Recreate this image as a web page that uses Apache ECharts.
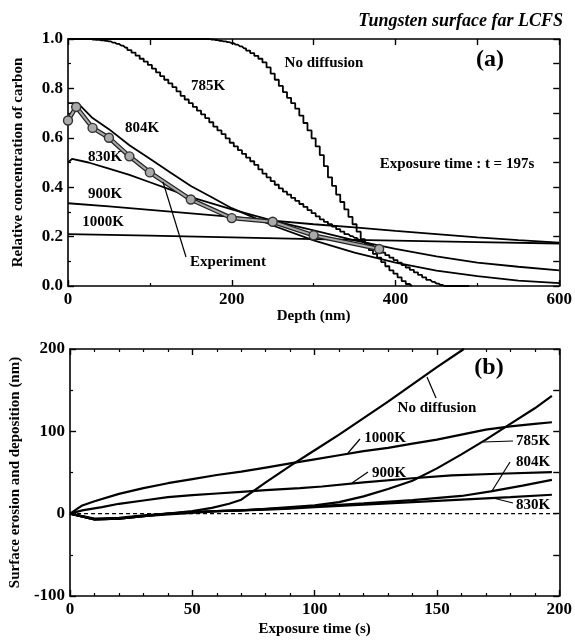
<!DOCTYPE html>
<html>
<head>
<meta charset="utf-8">
<script src="https://cdn.jsdelivr.net/npm/echarts@6/dist/echarts.min.js"></script>
<style>
html, body { margin: 0; padding: 0; background: #fff; }
#chart { width: 575px; height: 640px; }
</style>
</head>
<body>
<div id="chart"></div>
<script>
// (a) carbon depth profiles at t = 197 s : [depth (nm), relative concentration]
var noDiffA = [[0,1],[165,1],[170,1],[175,0.998],[180,0.996],[185,0.993],[190,0.99],[195,0.987],[200,0.983],
    [205,0.977],[210,0.97],[215,0.962],[220,0.953],[225,0.943],[230,0.932],[235,0.92],[240,0.905],[245,0.885],
    [250,0.86],[255,0.835],[260,0.81],[265,0.785],[270,0.762],[275,0.74],[280,0.718],[285,0.69],[290,0.66],
    [295,0.63],[300,0.598],[305,0.565],[310,0.53],[315,0.485],[320,0.44],[325,0.405],[330,0.37],[335,0.34],
    [340,0.31],[345,0.28],[350,0.25],[355,0.22],[360,0.19],[365,0.165],[370,0.145],[375,0.13],[380,0.115],
    [385,0.097],[390,0.08],[395,0.063],[400,0.05],[405,0.035],[410,0.02],[415,0.008],[420,0]];
var k785A = [[0,1],[25,1],[30,0.998],[35,0.997],[40,0.995],[45,0.993],[50,0.99],[55,0.985],[60,0.98],
    [65,0.973],[70,0.965],[75,0.955],[80,0.945],[85,0.933],[90,0.92],[95,0.908],[100,0.895],[105,0.88],
    [110,0.865],[115,0.85],[120,0.835],[125,0.82],[130,0.805],[135,0.788],[140,0.77],[145,0.755],[150,0.74],
    [155,0.725],[160,0.71],[165,0.695],[170,0.68],[175,0.663],[180,0.645],[185,0.63],[190,0.615],[195,0.598],
    [200,0.58],[205,0.565],[210,0.55],[215,0.535],[220,0.52],[225,0.505],[230,0.49],[235,0.472],[240,0.455],
    [245,0.44],[250,0.425],[255,0.41],[260,0.395],[265,0.382],[270,0.37],[275,0.357],[280,0.345],[285,0.332],
    [290,0.32],[295,0.307],[300,0.295],[305,0.282],[310,0.27],[315,0.26],[320,0.25],[325,0.24],[330,0.23],
    [335,0.22],[340,0.21],[345,0.202],[350,0.195],[355,0.187],[360,0.18],[365,0.172],[370,0.165],[375,0.155],
    [380,0.145],[385,0.135],[390,0.125],[395,0.115],[400,0.105],[405,0.095],[410,0.085],[415,0.075],[420,0.065],
    [425,0.055],[430,0.045],[435,0.035],[440,0.025],[445,0.017],[450,0.01],[455,0.004],[460,0],[490,0]];
var k804A = [[0,0.74],[12,0.74],[30,0.68],[50,0.635],[75,0.57],[100,0.515],[125,0.46],[150,0.405],[175,0.36],
    [200,0.315],[225,0.28],[250,0.245],[300,0.185],[350,0.135],[400,0.095],[450,0.062],[500,0.04],[550,0.022],[600,0.012]];
var k830A = [[0,0.5],[5,0.515],[25,0.5],[50,0.475],[75,0.45],[100,0.42],[125,0.39],[150,0.36],[200,0.31],
    [250,0.265],[300,0.225],[350,0.185],[400,0.15],[450,0.12],[500,0.095],[550,0.078],[600,0.063]];
var k900A = [[0,0.335],[50,0.322],[100,0.308],[150,0.294],[200,0.28],[250,0.265],[300,0.25],[350,0.237],
    [400,0.223],[450,0.21],[500,0.197],[550,0.186],[600,0.176]];
var k1000A = [[0,0.21],[100,0.204],[200,0.197],[300,0.19],[400,0.184],[500,0.178],[600,0.172]];
var experimentA = [[0,0.67],[10,0.725],[30,0.64],[50,0.6],[75,0.525],[100,0.46],[150,0.35],[200,0.275],
    [250,0.26],[300,0.205],[380,0.15]];

// (b) surface erosion / deposition : [exposure time (s), nm]
var noDiffB = [[0,0],[10,-7],[20,-6],[30,-3],[40,0],[50,3],[58,7],[65,12],[70,17],[80,38],[90,58],[100,77],
    [110,96],[120,116],[130,136],[140,157],[150,178],[161,200]];
var k785B = [[0,0],[10,-7],[20,-6],[30,-3],[40,-1],[50,1],[60,3],[70,4],[80,6],[90,8],[100,10],[110,14],
    [120,21],[130,30],[140,40],[150,55],[160,72],[170,90],[180,109],[190,128],[197,143]];
var k804B = [[0,0],[10,-7],[20,-6],[30,-3],[40,0],[50,2],[60,3],[70,4],[80,5.5],[90,7],[100,9],[120,12.5],
    [140,16.5],[160,21.5],[172,27],[185,34],[197,41]];
var k830B = [[0,0],[10,-6],[20,-5],[30,-2],[40,0],[50,2],[60,3],[70,4],[80,5],[90,6],[100,8],[120,11],
    [140,14],[160,17],[180,20],[197,23]];
var k900B = [[0,0],[5,4],[13,8],[20,12],[30,16],[40,20],[50,22.5],[60,24.5],[70,26.5],[80,28.5],[94,31],
    [103,33],[120,38],[140,43],[156,46.5],[175,48.5],[197,50.5]];
var k1000B = [[0,0],[5,10],[10,15],[20,24],[30,31],[40,37],[50,42],[60,47],[70,51],[80,56],[90,61],[100,66],
    [110,71],[120,76],[130,80],[140,85],[150,90],[160,96],[170,102],[180,106],[190,109],[197,111]];
var zeroLineB = [[0,0],[200,0]];

var FONT = 'Liberation Serif';
var chart = echarts.init(document.getElementById('chart'));

function axis(grid, pos, min, max, interval, minor, labels, fmt) {
    return {
        type: 'value', gridIndex: grid, position: pos, min: min, max: max, interval: interval,
        axisLine: { show: true, onZero: false, lineStyle: { color: '#000', width: 1.6 } },
        axisTick: { show: true, inside: true, length: 6, lineStyle: { color: '#000', width: 1.4 } },
        minorTick: { show: minor > 0, splitNumber: minor || 5, length: 3, lineStyle: { color: '#000', width: 1.2 } },
        axisLabel: { show: labels, color: '#000', fontFamily: FONT, fontWeight: 'bold', fontSize: 17, margin: 5, formatter: fmt },
        splitLine: { show: false }
    };
}
var nameStyle = { color: '#000', fontFamily: FONT, fontWeight: 'bold', fontSize: 15 };

var xa = axis(0, 'bottom', 0, 600, 200, 2, true);
xa.name = 'Depth (nm)'; xa.nameLocation = 'middle'; xa.nameGap = 12; xa.nameTextStyle = nameStyle;
var ya = axis(0, 'left', 0, 1, 0.2, 2, true, function (v) { return v.toFixed(1); });
ya.name = 'Relative concentration of carbon'; ya.nameLocation = 'middle'; ya.nameGap = 42; ya.nameTextStyle = nameStyle;
var xb = axis(1, 'bottom', 0, 200, 50, 5, true);
xb.name = 'Exposure time (s)'; xb.nameLocation = 'middle'; xb.nameGap = 26; xb.nameTextStyle = nameStyle;
var yb = axis(1, 'left', -100, 200, 100, 2, true);
yb.name = 'Surface erosion and deposition (nm)'; yb.nameLocation = 'middle'; yb.nameGap = 42; yb.nameTextStyle = nameStyle;

function line(data, xi, w, extra) {
    var s = { type: 'line', xAxisIndex: xi, yAxisIndex: xi, data: data, symbol: 'none',
        lineStyle: { color: '#000', width: w }, animation: false, z: 3 };
    for (var k in extra) s[k] = extra[k];
    return s;
}

function txt(x, y, s, size, extra) {
    var st = { text: s, x: x, y: y, align: 'center', verticalAlign: 'middle',
        font: 'bold ' + (size || 15) + 'px "Liberation Serif"', fill: '#000' };
    for (var k in extra) st[k] = extra[k];
    return { type: 'text', z: 10, style: st };
}
function lead(x1, y1, x2, y2) {
    return { type: 'line', z: 10, shape: { x1: x1, y1: y1, x2: x2, y2: y2 }, style: { stroke: '#000', lineWidth: 1.2 } };
}

chart.setOption({
    backgroundColor: '#fff',
    grid: [
        { left: 68, top: 39, width: 494, height: 247 },
        { left: 68, top: 349, width: 494, height: 247 }
    ],
    xAxis: [xa, axis(0, 'top', 0, 600, 100, 0, false), xb, axis(1, 'top', 0, 200, 50, 5, false)],
    yAxis: [ya, axis(0, 'right', 0, 1, 0.1, 0, false), yb, axis(1, 'right', -100, 200, 50, 0, false)],
    series: [
        line(noDiffA, 0, 1.8, { step: 'middle' }),
        line(k785A, 0, 1.8, { step: 'middle' }),
        line(k804A, 0, 1.8),
        line(k830A, 0, 1.8),
        line(k900A, 0, 1.8),
        line(k1000A, 0, 1.8),
        line(experimentA, 0, 4.5, { lineStyle: { color: '#222', width: 4.5 }, z: 4 }),
        line(experimentA, 0, 2, { lineStyle: { color: '#aaa', width: 2 }, z: 5, symbol: 'circle', symbolSize: 9,
            showSymbol: true, itemStyle: { color: '#aaa', borderColor: '#333', borderWidth: 1.4 } }),
        line(zeroLineB, 2, 1.4, { lineStyle: { color: '#000', width: 1.4, type: [4, 3] }, z: 2 }),
        line(noDiffB, 2, 2.2),
        line(k785B, 2, 2.2),
        line(k804B, 2, 2.2),
        line(k830B, 2, 2.2),
        line(k900B, 2, 2.2),
        line(k1000B, 2, 2.2)
    ],
    graphic: [
        txt(563, 21, 'Tungsten surface far LCFS', 18, { align: 'right', font: 'italic bold 18px "Liberation Serif"' }),
        txt(490, 60, '(a)', 24),
        txt(324, 63, 'No diffusion'),
        txt(208, 86, '785K'),
        txt(142, 128, '804K'),
        txt(105, 157, '830K'),
        txt(105, 194, '900K'),
        txt(103, 222, '1000K'),
        txt(228, 262, 'Experiment'),
        lead(163, 182, 186, 257),
        txt(457, 164, 'Exposure time : t = 197s'),
        txt(489, 368, '(b)', 24),
        txt(437, 408, 'No diffusion'),
        lead(427, 377, 436, 398),
        txt(385, 438, '1000K'),
        lead(348, 453, 360, 439),
        txt(389, 473, '900K'),
        lead(352, 483, 368, 472),
        txt(533, 441, '785K'),
        lead(483, 442, 513, 441),
        txt(533, 462, '804K'),
        lead(510, 462, 492, 491),
        txt(533, 505, '830K'),
        lead(493, 498, 513, 503)
    ]
});
</script>
</body>
</html>
